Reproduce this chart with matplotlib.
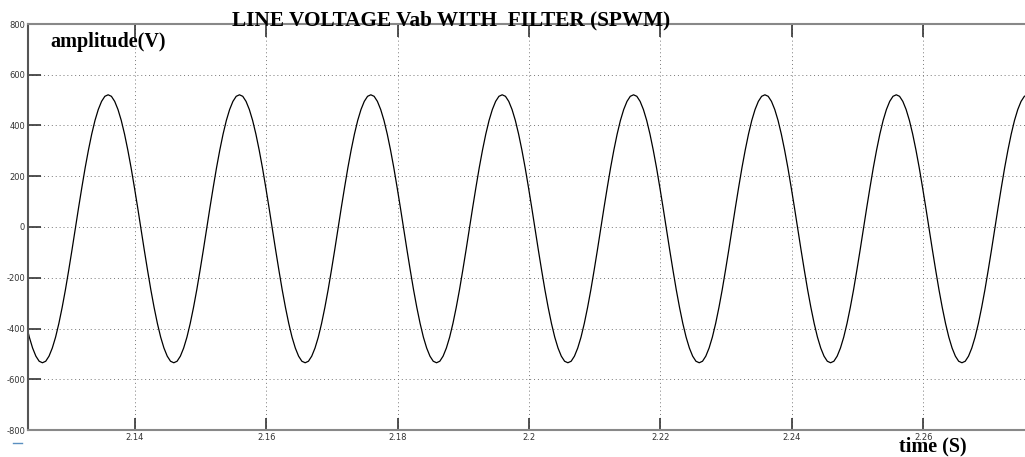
import matplotlib
matplotlib.use("Agg")
import matplotlib.pyplot as plt
from matplotlib.lines import Line2D
import numpy as np

# one period of the filtered line voltage, every 0.5 ms, starting at a peak
cycle_values = [521, 515, 495, 463, 420, 366, 303, 233, 156, 76,
                -7, -90, -170, -247, -317, -380, -434, -477, -509, -529,
                -535, -529, -509, -477, -434, -380, -317, -247, -170, -90,
                -7, 76, 156, 233, 303, 366, 420, 463, 495, 515]
sample_step = 0.0005
first_sample_time = 2.1234
first_sample_index = 15      # trace enters the window on the falling side
n_samples = 307

xticks = [2.14, 2.16, 2.18, 2.2, 2.22, 2.24, 2.26]
yticks = [-800, -600, -400, -200, 0, 200, 400, 600, 800]

idx = (np.arange(n_samples) + first_sample_index) % len(cycle_values)
vab = np.array(cycle_values)[idx]
t = first_sample_time + sample_step * np.arange(n_samples)

plt.rcParams['axes.unicode_minus'] = False

fig = plt.figure(figsize=(10.25, 4.57), dpi=100)
ax = fig.add_axes([28 / 1025, 27 / 457, 997 / 1025, 406 / 457])

ax.plot(t, vab, color='black', lw=0.9)

ax.set_xlim(2.1237, 2.2755)
ax.set_ylim(-800, 800)
ax.set_xticks(xticks)
ax.set_xticklabels(['%g' % v for v in xticks])
ax.set_yticks(yticks)
ax.grid(True, color='#777777', linestyle=(0, (1, 3)), lw=0.7)
ax.tick_params(direction='in', length=9, width=1.2, color='#333333',
               labelsize=6, labelcolor='#333333', top=True, pad=2)
ax.spines['right'].set_visible(False)
for s in ['left', 'bottom', 'top']:
    ax.spines[s].set_color('#888888')
    ax.spines[s].set_linewidth(1.5)
ax.spines['left'].set_color('#555555')

serif = ['Liberation Serif', 'DejaVu Serif']
fig.text(232 / 1025, 1 - 25 / 457, "LINE VOLTAGE Vab WITH  FILTER (SPWM)",
         family=serif, fontweight='bold', fontsize=15.3, ha='left', va='baseline')
fig.text(50 / 1025, 1 - 42 / 457, "amplitude(V)",
         family=serif, fontweight='bold', fontsize=14.5, ha='left', va='center')
fig.text(899 / 1025, 1 - 446 / 457, "time (S)",
         family=serif, fontweight='bold', fontsize=14.5, ha='left', va='center')

# small blue mark under the axes corner
fig.add_artist(Line2D([13 / 1025, 22 / 1025], [1 - 443 / 457, 1 - 443 / 457],
                      color='#5a8fc0', lw=1, transform=fig.transFigure))

fig.savefig("out.png", dpi=100)
